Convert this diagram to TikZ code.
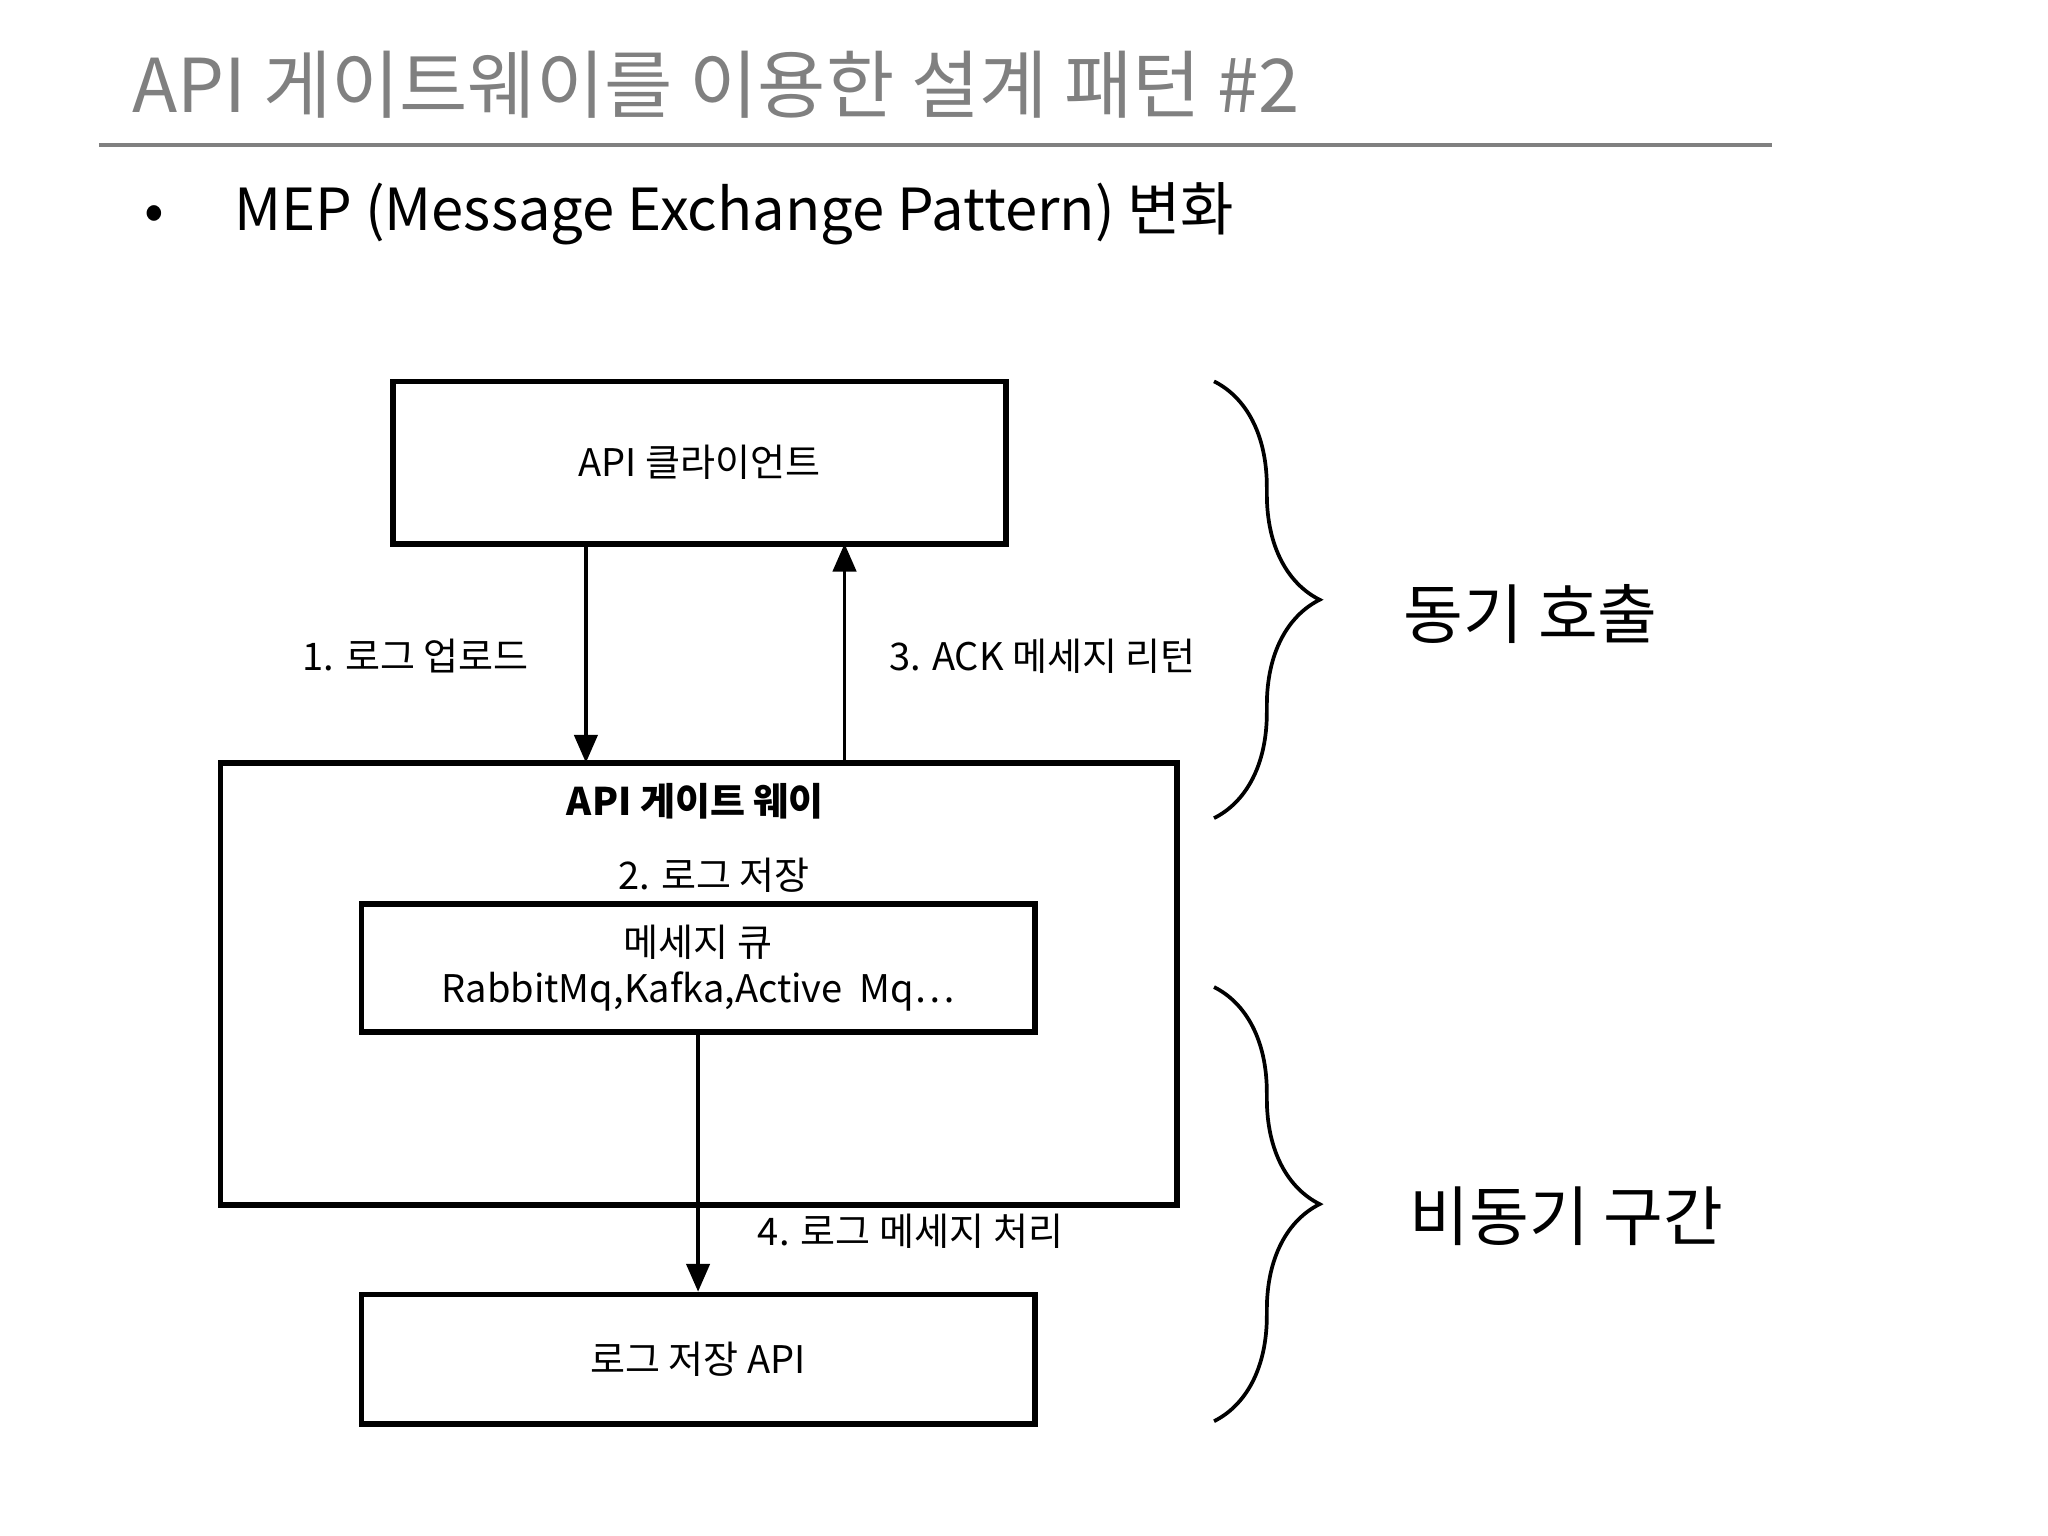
\documentclass[tikz,border=0pt]{standalone}
\usepackage{fontspec}
\setmainfont{Noto Sans CJK KR}
\usetikzlibrary{arrows.meta,decorations.pathreplacing}
\begin{document}
\begin{tikzpicture}[x=0.01cm,y=-0.01cm,
  bx/.style={draw,line width=1.2pt,inner sep=0pt},
  ar/.style={-{Triangle[length=6pt,width=5pt]},line width=0.8pt},
  lb/.style={font=\fontsize{8.2}{10}\selectfont},
  br/.style={decorate,decoration={brace,amplitude=0.8cm},line width=0.8pt}]
\useasboundingbox (0,0) rectangle (1552,1164);
\node[anchor=base west,text=gray,font=\fontsize{16}{18}\selectfont] (title) at (88,85) {API 게이트웨이를 이용한 설계 패턴 \#2};
\draw[gray,line width=0.8pt] (75,110) -- (1343,110);
\node[anchor=base,font=\fontsize{12.5}{15}\selectfont] (bul) at (117,175) {•};
\node[anchor=base west,font=\fontsize{12.5}{15}\selectfont] (sub) at (165,175) {MEP (Message Exchange Pattern) 변화};
\node[bx,minimum width=4.64cm,minimum height=1.23cm,lb] (cl) at (530,350.5) {API 클라이언트};
\draw[bx] (167,578) rectangle (892,913);
\node[font=\fontsize{8.2}{10}\bfseries\selectfont] (gw) at (527,607) {API 게이트 웨이};
\node[lb] (l2) at (541,663) {2. 로그 저장};
\node[bx,minimum width=5.1cm,minimum height=0.97cm,lb,align=center] (mq) at (529,733.5) {메세지 큐\\RabbitMq,Kafka,Active~~Mq…};
\node[bx,minimum width=5.1cm,minimum height=0.98cm,lb] (la) at (529,1030) {로그 저장 API};
\coordinate (a1) at (444,412); \coordinate (a2) at (444,578);
\coordinate (b1) at (640,578); \coordinate (b2) at (640,412);
\draw[ar] (a1) -- (a2);
\draw[ar] (b1) -- (b2);
\draw[ar] (mq.south) -- (la.north);
\node[lb] (l1) at (315,497) {1. 로그 업로드};
\node[lb] (l3) at (790,497) {3. ACK 메세지 리턴};
\node[lb] (l4) at (690,933) {4. 로그 메세지 처리};
\coordinate (c1) at (920,289); \coordinate (c2) at (920,620);
\coordinate (d1) at (920,748); \coordinate (d2) at (920,1077);
\draw[br] (c1) -- (c2);
\draw[br] (d1) -- (d2);
\node[font=\fontsize{14}{16}\selectfont] (s1) at (1160,465) {동기 호출};
\node[font=\fontsize{14}{16}\selectfont] (s2) at (1187,922) {비동기 구간};
\end{tikzpicture}
\end{document}
